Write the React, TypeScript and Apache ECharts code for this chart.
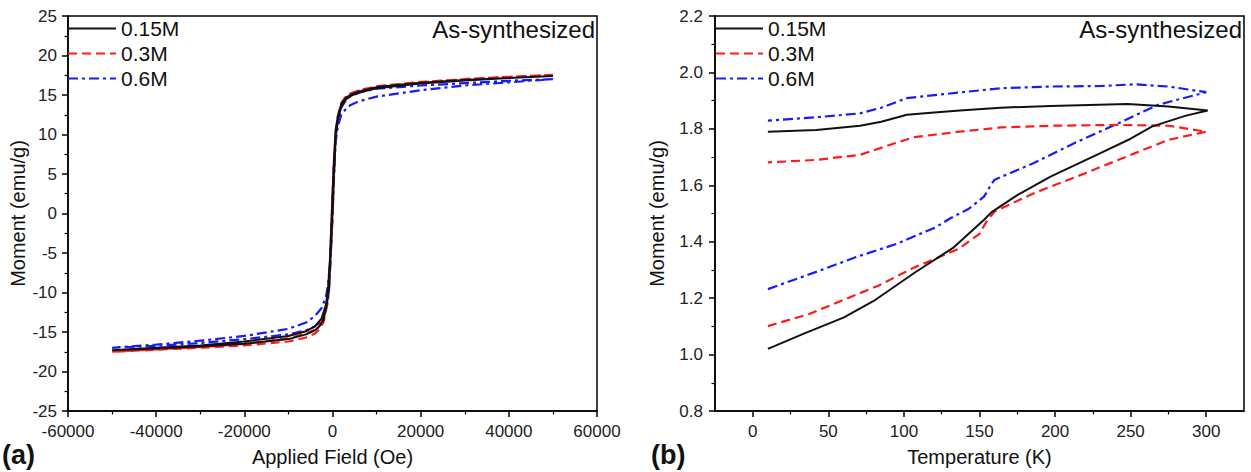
import React, { useEffect, useRef } from "react";
import * as echarts from "echarts";

const FONT = "'Liberation Sans', Arial, sans-serif";

const seriesNames = ["0.15M", "0.3M", "0.6M"];
const seriesColors = ["#111111", "#ff1a1a", "#1a1aff"];
const seriesDash: (number[] | "solid")[] = ["solid", [9, 5], [10, 4, 3, 4]];

// ---------- Panel (a): hysteresis loops ----------
const fieldXTicks = [-60000, -40000, -20000, 0, 20000, 40000, 60000];
const momentYTicksA = [-25, -20, -15, -10, -5, 0, 5, 10, 15, 20, 25];

const fieldDown = [50000, 40000, 30000, 20000, 10000, 6000, 4000, 3000, 2000, 1200, 700, 300, 0, -300, -600, -1000, -1500, -2500, -4000, -6000, -10000, -20000, -30000, -40000, -50000];
const fieldUp = [-50000, -40000, -30000, -20000, -10000, -6000, -4000, -3000, -2000, -1200, -800, -400, 0, 300, 700, 1200, 2000, 3000, 4000, 6000, 10000, 20000, 30000, 40000, 50000];

const m015Down = [17.4, 17.15, 16.9, 16.55, 16.0, 15.45, 15.0, 14.6, 13.9, 12.3, 10.5, 6.5, 2.5, -2.0, -6.0, -9.5, -11.6, -13.3, -14.3, -14.9, -15.5, -16.2, -16.7, -17.0, -17.3];
const m015Up = [-17.3, -17.1, -16.85, -16.5, -15.9, -15.3, -14.8, -14.3, -13.4, -11.2, -9.5, -5.0, 0.0, 4.5, 9.5, 11.8, 13.6, 14.4, 14.85, 15.3, 15.85, 16.45, 16.85, 17.15, 17.4];

const m03Down = [17.55, 17.3, 17.0, 16.65, 16.1, 15.6, 15.2, 14.8, 14.0, 12.2, 10.2, 6.0, 2.0, -2.5, -6.5, -10.0, -12.2, -13.8, -14.7, -15.2, -15.8, -16.5, -16.9, -17.2, -17.5];
const m03Up = [-17.5, -17.25, -17.0, -16.7, -16.2, -15.7, -15.2, -14.7, -13.7, -11.5, -9.5, -5.0, 0.0, 4.5, 9.8, 12.2, 13.9, 14.7, 15.1, 15.55, 16.05, 16.6, 17.0, 17.3, 17.55];

const m06Down = [17.0, 16.8, 16.5, 16.2, 15.8, 15.3, 14.8, 14.3, 13.4, 11.8, 9.8, 5.5, 1.5, -3.0, -6.5, -9.0, -10.6, -12.0, -13.0, -13.8, -14.6, -15.5, -16.1, -16.6, -17.0];
const m06Up = [-17.0, -16.75, -16.4, -15.9, -15.3, -14.8, -14.3, -13.8, -13.0, -11.5, -9.8, -5.5, -0.5, 4.0, 9.0, 11.0, 12.5, 13.2, 13.7, 14.2, 14.8, 15.6, 16.2, 16.6, 17.0];

// ---------- Panel (b): ZFC / FC ----------
const tempXTicks = [0, 50, 100, 150, 200, 250, 300];
const momentYTicksB = [0.8, 1.0, 1.2, 1.4, 1.6, 1.8, 2.0, 2.2];

const tZfc015 = [10, 35, 60, 80, 107, 133, 153, 158, 175, 197, 230, 250, 264, 286, 301];
const mZfc015 = [1.02, 1.077, 1.131, 1.19, 1.29, 1.38, 1.478, 1.505, 1.565, 1.631, 1.714, 1.765, 1.808, 1.846, 1.865];
const tFc015 = [275, 248, 197, 164, 137, 120, 102, 85, 71, 42, 10];
const mFc015 = [1.879, 1.888, 1.881, 1.875, 1.865, 1.858, 1.85, 1.825, 1.811, 1.796, 1.79];

const tZfc03 = [10, 37, 61, 83, 107, 136, 150, 155, 160, 186, 220, 253, 275, 300];
const mZfc03 = [1.101, 1.143, 1.196, 1.244, 1.309, 1.374, 1.428, 1.475, 1.507, 1.572, 1.643, 1.714, 1.761, 1.79];
const tFc03 = [275, 242, 197, 164, 137, 107, 93, 71, 42, 10];
const mFc03 = [1.811, 1.814, 1.811, 1.805, 1.79, 1.771, 1.747, 1.708, 1.69, 1.681];

const tZfc06 = [10, 44, 68, 95, 121, 131, 143, 153, 158, 160, 186, 215, 242, 268, 300];
const mZfc06 = [1.232, 1.297, 1.345, 1.392, 1.451, 1.484, 1.517, 1.56, 1.605, 1.62, 1.679, 1.755, 1.82, 1.885, 1.93];
const tFc06 = [275, 253, 231, 197, 164, 137, 102, 85, 71, 42, 10];
const mFc06 = [1.95, 1.958, 1.952, 1.95, 1.944, 1.929, 1.909, 1.875, 1.855, 1.841, 1.829];

const pairs = (xs: number[], ys: number[]) => xs.map((x, i) => [x, ys[i]]);

const loopData = [
  pairs(fieldDown, m015Down).concat(pairs(fieldUp, m015Up)),
  pairs(fieldDown, m03Down).concat(pairs(fieldUp, m03Up)),
  pairs(fieldDown, m06Down).concat(pairs(fieldUp, m06Up)),
];
const tempData = [
  pairs(tZfc015, mZfc015).concat(pairs(tFc015, mFc015)),
  pairs(tZfc03, mZfc03).concat(pairs(tFc03, mFc03)),
  pairs(tZfc06, mZfc06).concat(pairs(tFc06, mFc06)),
];

const axisLineStyle = { color: "#000", width: 1.5 };
const labelStyle = { fontSize: 17, color: "#222", fontFamily: FONT };
const nameStyle = { fontSize: 20, color: "#111", fontFamily: FONT };

function baseAxis(extra: any) {
  return {
    type: "value",
    axisLine: { show: true, onZero: false, lineStyle: axisLineStyle },
    axisTick: { show: true, inside: false, length: 6, lineStyle: axisLineStyle },
    minorTick: { show: true, splitNumber: 2, length: 3.5, lineStyle: { color: "#000", width: 1.2 } },
    splitLine: { show: false },
    minorSplitLine: { show: false },
    nameLocation: "middle",
    nameTextStyle: nameStyle,
    ...extra,
  };
}

function makeSeries() {
  const out: any[] = [];
  seriesNames.forEach((name, i) => {
    const lineStyle = { color: seriesColors[i], width: i === 0 ? 2 : 2.2, type: seriesDash[i] };
    out.push({
      name, type: "line", xAxisIndex: 0, yAxisIndex: 0, data: loopData[i],
      symbol: "none", showSymbol: false, lineStyle, itemStyle: { color: seriesColors[i] }, z: 3 - i,
    });
    out.push({
      name, type: "line", xAxisIndex: 1, yAxisIndex: 1, data: tempData[i],
      symbol: "none", showSymbol: false, lineStyle, itemStyle: { color: seriesColors[i] }, z: 3 - i,
    });
  });
  return out;
}

const legendCommon = {
  orient: "vertical",
  top: 18,
  itemHeight: 20,
  itemGap: 4,
  padding: 0,
  selectedMode: false,
  itemStyle: { opacity: 0 },
  textStyle: { fontSize: 21, color: "#111", fontFamily: FONT },
  data: seriesNames,
};

const titleText = { fontSize: 24, fontWeight: "normal", color: "#111", fontFamily: FONT };
const panelLabel = { fontSize: 27, fontWeight: "bold", color: "#111", fontFamily: FONT };

const option: any = {
  animation: false,
  backgroundColor: "#fff",
  textStyle: { fontFamily: FONT },
  grid: [
    { left: 68, top: 16, width: 529, height: 395, show: true, borderColor: "#000", borderWidth: 1.5, containLabel: false },
    { left: 715, top: 16, width: 529, height: 395, show: true, borderColor: "#000", borderWidth: 1.5, containLabel: false },
  ],
  xAxis: [
    baseAxis({
      gridIndex: 0, min: fieldXTicks[0], max: fieldXTicks[fieldXTicks.length - 1], interval: 20000,
      axisLabel: { ...labelStyle, margin: 12, formatter: (v: number) => String(v) },
      name: "Applied Field (Oe)", nameGap: 36,
    }),
    baseAxis({
      gridIndex: 1, min: -25, max: 325, splitNumber: 7,
      axisTick: { show: true, inside: false, length: 6, lineStyle: axisLineStyle, customValues: tempXTicks },
      axisLabel: { ...labelStyle, margin: 12, customValues: tempXTicks, formatter: (v: number) => String(v) },
      name: "Temperature (K)", nameGap: 36,
    }),
  ],
  yAxis: [
    baseAxis({
      gridIndex: 0, min: momentYTicksA[0], max: momentYTicksA[momentYTicksA.length - 1], interval: 5,
      axisLabel: { ...labelStyle, margin: 11 },
      name: "Moment (emu/g)", nameGap: 40, nameRotate: 90,
    }),
    baseAxis({
      gridIndex: 1, min: momentYTicksB[0], max: momentYTicksB[momentYTicksB.length - 1], interval: 0.2,
      axisLabel: { ...labelStyle, margin: 12, formatter: (v: number) => v.toFixed(1) },
      name: "Moment (emu/g)", nameGap: 48, nameRotate: 90,
    }),
  ],
  legend: [
    { ...legendCommon, left: 67, itemWidth: 48 },
    { ...legendCommon, left: 715, itemWidth: 47 },
  ],
  title: [
    { text: "As-synthesized", right: 656, top: 17, padding: 0, textStyle: titleText },
    { text: "As-synthesized", right: 9, top: 17, padding: 0, textStyle: titleText },
    { text: "(a)", left: 2, top: 441, padding: 0, textStyle: panelLabel },
    { text: "(b)", left: 651, top: 441, padding: 0, textStyle: panelLabel },
  ],
  series: makeSeries(),
};

export default function App() {
  const ref = useRef<HTMLDivElement>(null);
  useEffect(() => {
    const chart = echarts.init(ref.current!, null, { renderer: "svg" });
    chart.setOption(option);
    return () => chart.dispose();
  }, []);
  return (
    <div
      ref={ref}
      style={{ position: "fixed", left: 0, top: 0, width: 1251, height: 472, background: "#fff" }}
    />
  );
}
